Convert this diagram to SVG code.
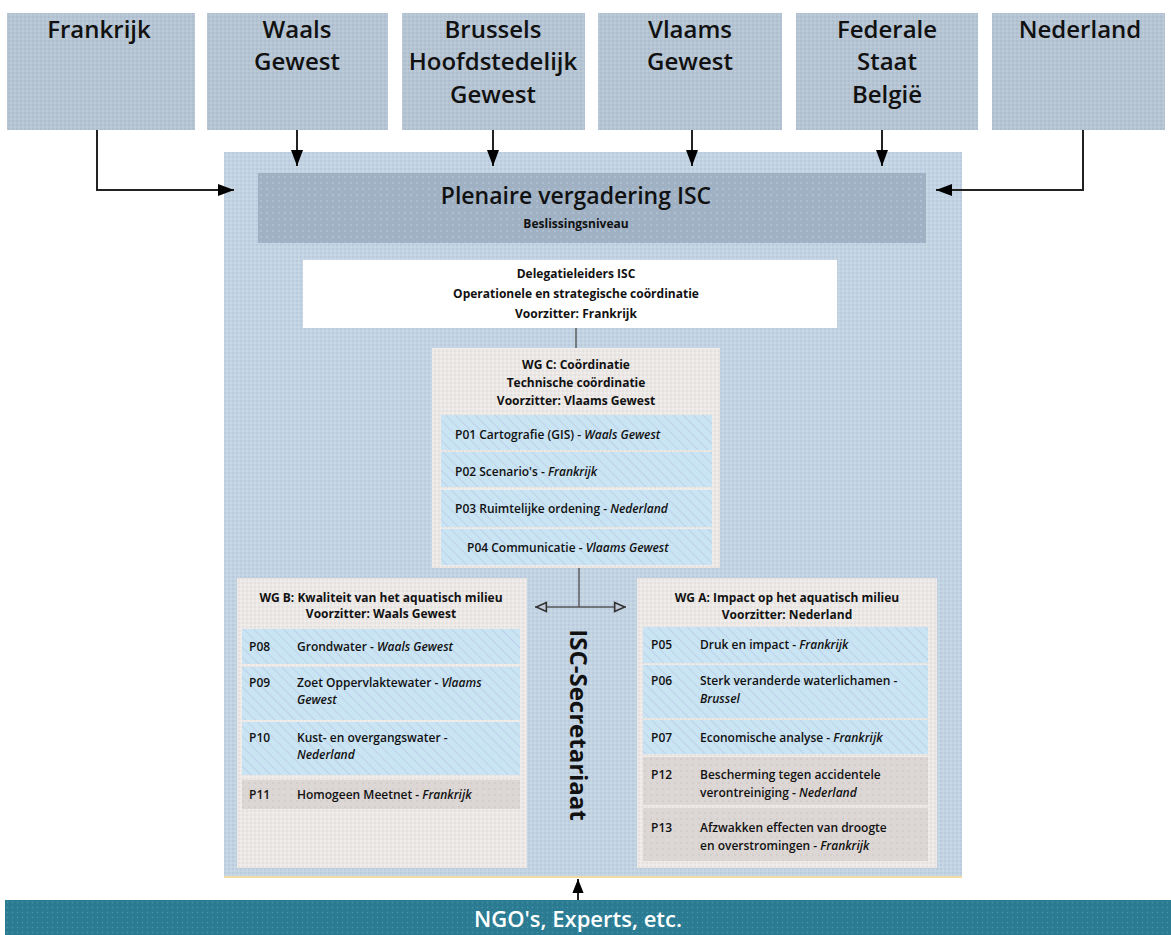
<svg xmlns="http://www.w3.org/2000/svg" width="1171" height="935" viewBox="0 0 1171 935">
<defs>
<pattern id="pTop" width="4" height="4" patternUnits="userSpaceOnUse"><rect width="4" height="4" fill="#b6c5d4"/><circle cx="1" cy="1" r="0.8" fill="#a5b5c6"/><circle cx="3" cy="3" r="0.8" fill="#c4d1de"/></pattern>
<pattern id="pOuter" width="4" height="4" patternUnits="userSpaceOnUse"><rect width="4" height="4" fill="#c2d3e2"/><circle cx="1" cy="1" r="0.8" fill="#b3bfdc"/><circle cx="3" cy="3" r="0.8" fill="#d3e0ea"/></pattern>
<pattern id="pPlen" width="6" height="6" patternUnits="userSpaceOnUse"><rect width="6" height="6" fill="#a0b1c4"/><circle cx="3" cy="3" r="0.7" fill="#c2d6e2"/></pattern>
<pattern id="pWG" width="4" height="4" patternUnits="userSpaceOnUse"><rect width="4" height="4" fill="#ebe8e6"/><circle cx="1" cy="1" r="0.8" fill="#f7f5f4"/><circle cx="3" cy="3" r="0.8" fill="#dedad8"/></pattern>
<pattern id="pBlue" width="7" height="7" patternUnits="userSpaceOnUse" patternTransform="rotate(-45)"><rect width="7" height="7" fill="#c9e4f2"/><line x1="0" y1="0" x2="0" y2="7" stroke="#b8c3e6" stroke-width="1.2"/></pattern>
<pattern id="pGray" width="6" height="6" patternUnits="userSpaceOnUse"><rect width="6" height="6" fill="#dcd7d5"/><circle cx="3" cy="3" r="0.8" fill="#c8c2c0"/></pattern>
<pattern id="pNgo" width="5" height="5" patternUnits="userSpaceOnUse"><rect width="5" height="5" fill="#2b7c93"/><circle cx="2.5" cy="2.5" r="0.7" fill="#4b96ab"/></pattern>
<marker id="aSolid" viewBox="0 0 16 12" refX="16" refY="6" markerWidth="8" markerHeight="6" orient="auto" markerUnits="strokeWidth"><path d="M0,0 L16,6 L0,12 z" fill="#000"/></marker>
<marker id="aSmall" viewBox="0 0 10 10" refX="10" refY="5" markerWidth="8" markerHeight="7" orient="auto" markerUnits="strokeWidth"><path d="M0,1 L10,5 L0,9 z" fill="#000"/></marker>
<marker id="aOpen" viewBox="0 0 10 10" refX="10" refY="5" markerWidth="9" markerHeight="9" orient="auto" markerUnits="strokeWidth"><path d="M1,1.5 L9,5 L1,8.5 z" fill="#bfc8d8" stroke="#333" stroke-width="1.3"/></marker>
<style>
.t{font-family:"Open Sans","Noto Sans","DejaVu Sans",sans-serif;fill:#111}
.top{font-size:24px;font-weight:600;text-anchor:middle}
.h{font-size:12px;font-weight:700;text-anchor:middle}
.r{font-size:12px;font-weight:600}
.it{font-style:italic}
.line{fill:none;stroke:#222;stroke-width:2}
.thin{fill:none;stroke:#555;stroke-width:1.4}
</style>
</defs>
<rect width="1171" height="935" fill="#fff"/>

<g id="frankrijk"><rect x="7" y="13" width="188" height="117" fill="url(#pTop)"/><text class="t top" x="99" y="38">Frankrijk</text></g>
<g id="waals"><rect x="207" y="13" width="181" height="117" fill="url(#pTop)"/><text class="t top" x="297" y="38">Waals</text><text class="t top" x="297" y="70">Gewest</text></g>
<g id="brussels"><rect x="402" y="13" width="183" height="117" fill="url(#pTop)"/><text class="t top" x="493" y="38">Brussels</text><text class="t top" x="493" y="70">Hoofdstedelijk</text><text class="t top" x="493" y="103">Gewest</text></g>
<g id="vlaams"><rect x="598" y="13" width="184" height="117" fill="url(#pTop)"/><text class="t top" x="690" y="38">Vlaams</text><text class="t top" x="690" y="70">Gewest</text></g>
<g id="federale"><rect x="796" y="13" width="182" height="117" fill="url(#pTop)"/><text class="t top" x="887" y="38">Federale</text><text class="t top" x="887" y="70">Staat</text><text class="t top" x="887" y="103">België</text></g>
<g id="nederland"><rect x="992" y="13" width="173" height="117" fill="url(#pTop)"/><text class="t top" x="1080" y="38">Nederland</text></g>

<g id="isc"><rect x="224" y="152" width="738" height="725" fill="url(#pOuter)"/><line x1="224" y1="877" x2="962" y2="877" stroke="#f2d9a6" stroke-width="2"/></g>

<g id="plenaire"><rect x="258" y="173" width="668" height="70" fill="url(#pPlen)"/><text class="t" x="576" y="204" font-size="23" font-weight="600" text-anchor="middle">Plenaire vergadering ISC</text><text class="t" x="576" y="228" font-size="12" font-weight="700" text-anchor="middle">Beslissingsniveau</text></g>

<g id="delegatieleiders"><rect x="303" y="260" width="534" height="68" fill="#fff"/><text class="t h" x="576" y="278">Delegatieleiders ISC</text><text class="t h" x="576" y="298">Operationele en strategische coördinatie</text><text class="t h" x="576" y="318">Voorzitter: Frankrijk</text></g>

<g id="wgc"><rect x="432" y="348" width="288" height="220" fill="url(#pWG)"/>
<text class="t h" x="576" y="369">WG C: Coördinatie</text><text class="t h" x="576" y="387">Technische  coördinatie</text><text class="t h" x="576" y="405">Voorzitter: Vlaams Gewest</text>
<rect x="441" y="415" width="271" height="35" fill="url(#pBlue)"/>
<rect x="441" y="452" width="271" height="35" fill="url(#pBlue)"/>
<rect x="441" y="490" width="271" height="37" fill="url(#pBlue)"/>
<rect x="441" y="529" width="271" height="36" fill="url(#pBlue)"/>
<text class="t r" x="455" y="439">P01 Cartografie (GIS) - <tspan class="it">Waals Gewest</tspan></text>
<text class="t r" x="455" y="476">P02 Scenario's - <tspan class="it">Frankrijk</tspan></text>
<text class="t r" x="455" y="513">P03 Ruimtelijke ordening - <tspan class="it">Nederland</tspan></text>
<text class="t r" x="467" y="552">P04 Communicatie - <tspan class="it">Vlaams Gewest</tspan></text>
</g>

<g id="wgb"><rect x="237" y="578" width="290" height="290" fill="url(#pWG)"/>
<text class="t h" x="381" y="602">WG B: Kwaliteit van het aquatisch milieu</text><text class="t h" x="381" y="618">Voorzitter: Waals Gewest</text>
<rect x="242" y="629" width="278" height="35" fill="url(#pBlue)"/>
<rect x="242" y="667" width="278" height="53" fill="url(#pBlue)"/>
<rect x="242" y="722" width="278" height="53" fill="url(#pBlue)"/>
<rect x="242" y="780" width="278" height="29" fill="url(#pGray)"/>
<text class="t r" x="249" y="651">P08</text><text class="t r" x="297" y="651">Grondwater - <tspan class="it">Waals Gewest</tspan></text>
<text class="t r" x="249" y="687">P09</text><text class="t r" x="297" y="687">Zoet Oppervlaktewater - <tspan class="it">Vlaams</tspan></text><text class="t r it" x="297" y="704">Gewest</text>
<text class="t r" x="249" y="742">P10</text><text class="t r" x="297" y="742">Kust- en overgangswater -</text><text class="t r it" x="297" y="759">Nederland</text>
<text class="t r" x="249" y="799">P11</text><text class="t r" x="297" y="799">Homogeen Meetnet - <tspan class="it">Frankrijk</tspan></text>
</g>

<g id="wga"><rect x="637" y="578" width="300" height="290" fill="url(#pWG)"/>
<text class="t h" x="787" y="602">WG A: Impact op het aquatisch milieu</text><text class="t h" x="787" y="619">Voorzitter: Nederland</text>
<rect x="643" y="627" width="285" height="36" fill="url(#pBlue)"/>
<rect x="643" y="665" width="285" height="53" fill="url(#pBlue)"/>
<rect x="643" y="720" width="285" height="34" fill="url(#pBlue)"/>
<rect x="643" y="757" width="285" height="48" fill="url(#pGray)"/>
<rect x="643" y="808" width="285" height="53" fill="url(#pGray)"/>
<text class="t r" x="651" y="649">P05</text><text class="t r" x="700" y="649">Druk en impact - <tspan class="it">Frankrijk</tspan></text>
<text class="t r" x="651" y="685">P06</text><text class="t r" x="700" y="685">Sterk veranderde waterlichamen -</text><text class="t r it" x="700" y="703">Brussel</text>
<text class="t r" x="651" y="742">P07</text><text class="t r" x="700" y="742">Economische analyse - <tspan class="it">Frankrijk</tspan></text>
<text class="t r" x="651" y="779">P12</text><text class="t r" x="700" y="779">Bescherming tegen accidentele</text><text class="t r" x="700" y="797">verontreiniging - <tspan class="it">Nederland</tspan></text>
<text class="t r" x="651" y="832">P13</text><text class="t r" x="700" y="832">Afzwakken effecten van droogte</text><text class="t r" x="700" y="850">en overstromingen - <tspan class="it">Frankrijk</tspan></text>
</g>

<g id="secretariaat"><text class="t" transform="translate(570,725) rotate(90)" font-size="24" font-weight="700" text-anchor="middle">ISC-Secretariaat</text></g>

<g id="ngo"><rect x="5" y="900" width="1166" height="35" fill="url(#pNgo)"/><text class="t" x="578" y="927" font-size="22" font-weight="600" text-anchor="middle" style="fill:#fff">NGO's, Experts, etc.</text></g>

<g id="connectors">
<path class="line" d="M97,130 V190 H234" marker-end="url(#aSolid)"/>
<path class="line" d="M1083,130 V190 H936" marker-end="url(#aSolid)"/>
<path class="line" d="M297,130 V166" marker-end="url(#aSolid)"/>
<path class="line" d="M493,130 V166" marker-end="url(#aSolid)"/>
<path class="line" d="M692,130 V166" marker-end="url(#aSolid)"/>
<path class="line" d="M882,130 V166" marker-end="url(#aSolid)"/>
<path class="thin" d="M576,328 V348"/>
<path class="thin" d="M579,568 V607"/>
<path class="thin" d="M579,607 H535" marker-end="url(#aOpen)"/>
<path class="thin" d="M579,607 H626" marker-end="url(#aOpen)"/>
<path class="line" stroke-width="1.5" d="M578,900 V879" marker-end="url(#aSmall)"/>
</g>
</svg>
